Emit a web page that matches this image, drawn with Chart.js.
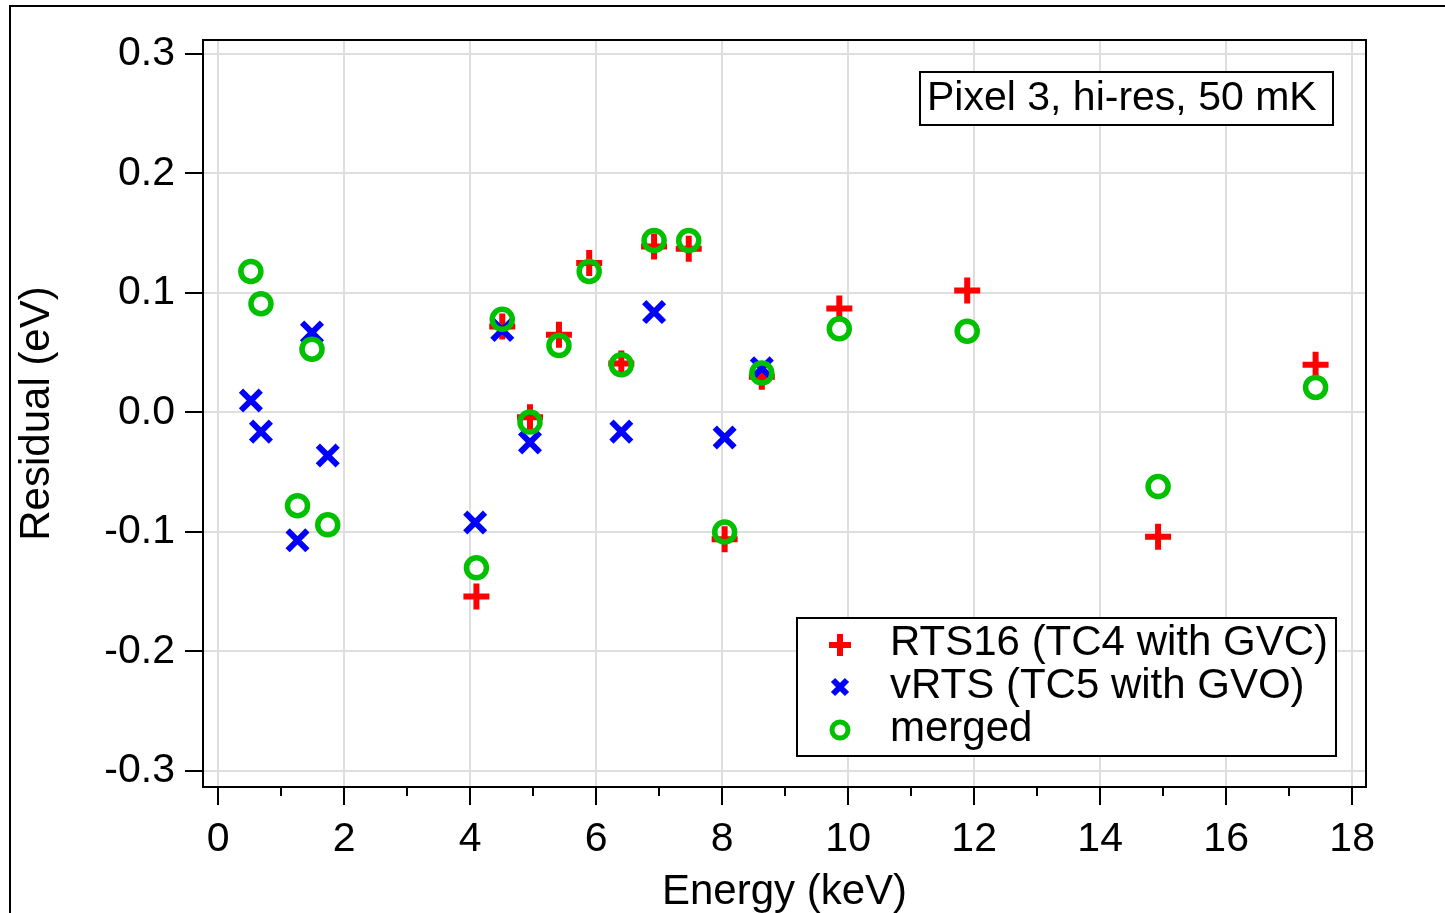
<!DOCTYPE html>
<html>
<head>
<meta charset="utf-8">
<script src="https://cdn.jsdelivr.net/npm/chart.js@4.4.1/dist/chart.umd.min.js"></script>
<style>
  html, body { margin: 0; padding: 0; background: #fff; }
  #wrap { position: relative; width: 1445px; height: 913px; overflow: hidden; }
  #frame { position: absolute; left: 9px; top: 5px; width: 1460px; height: 940px;
           border-left: 2px solid #000; border-top: 2px solid #000; }
  canvas { position: absolute; left: 0; top: 0; }
</style>
</head>
<body>
<div id="wrap">
  <div id="frame"></div>
  <canvas id="residChart" width="1445" height="913"></canvas>
</div>
<script>
// RTS16 (TC4 with GVC)
const rtsEnergy = [4.10, 4.51, 4.95, 5.41, 5.89, 6.40, 6.92, 7.47, 8.04, 8.63, 9.86, 11.89, 14.92, 17.42];
const rtsResid  = [-0.154, 0.072, -0.004, 0.065, 0.125, 0.041, 0.139, 0.137, -0.106, 0.030, 0.087, 0.102, -0.104, 0.040];

// vRTS (TC5 with GVO)
const vrtsEnergy = [0.52, 0.68, 1.26, 1.49, 1.74, 4.08, 4.51, 4.95, 6.40, 6.92, 8.04, 8.63];
const vrtsResid  = [0.010, -0.016, -0.107, 0.067, -0.036, -0.092, 0.069, -0.025, -0.016, 0.084, -0.021, 0.037];

// merged
const mergedEnergy = [0.52, 0.68, 1.26, 1.49, 1.74, 4.10, 4.51, 4.95, 5.41, 5.89, 6.40, 6.92, 7.47, 8.04, 8.63, 9.86, 11.89, 14.92, 17.42];
const mergedResid  = [0.118, 0.091, -0.078, 0.053, -0.094, -0.130, 0.078, -0.008, 0.056, 0.118, 0.040, 0.144, 0.144, -0.100, 0.033, 0.070, 0.068, -0.062, 0.021];

const seriesNames = ['RTS16 (TC4 with GVC)', 'vRTS (TC5 with GVO)', 'merged'];
const xTicks = [0, 2, 4, 6, 8, 10, 12, 14, 16, 18];
const xMinorTicks = [1, 3, 5, 7, 9, 11, 13, 15, 17];
const yTicks = [-0.3, -0.2, -0.1, 0.0, 0.1, 0.2, 0.3];
const noteText = 'Pixel 3, hi-res, 50 mK';

const FONT = "'Liberation Sans', Arial, Helvetica, sans-serif";
Chart.defaults.font.family = FONT;
Chart.defaults.color = '#000';

const RED = '#ff0000', BLUE = '#0000ff', GREEN = '#00c000';

function toPoints(xs, ys) {
    return xs.map((x, i) => ({ x: x, y: ys[i] }));
}

// frame, minor ticks, legend box and note box
const extras = {
    id: 'extras',
    afterDraw(chart) {
        const ctx = chart.ctx;
        const a = chart.chartArea;
        const xs = chart.scales.x;
        ctx.save();
        ctx.strokeStyle = '#000';
        ctx.lineWidth = 2;
        ctx.strokeRect(a.left, a.top, a.right - a.left, a.bottom - a.top);

        ctx.beginPath();
        xMinorTicks.forEach(v => {
            const px = Math.round(xs.getPixelForValue(v));
            ctx.moveTo(px, a.bottom);
            ctx.lineTo(px, a.bottom + 9);
        });
        ctx.stroke();

        // note box
        ctx.fillStyle = '#fff';
        ctx.fillRect(920, 72, 413, 53);
        ctx.strokeRect(920, 72, 413, 53);
        ctx.fillStyle = '#000';
        ctx.font = '41px ' + FONT;
        ctx.textBaseline = 'alphabetic';
        ctx.textAlign = 'left';
        ctx.fillText(noteText, 927, 110);

        // legend box
        ctx.fillStyle = '#fff';
        ctx.fillRect(797, 618, 539, 138);
        ctx.strokeRect(797, 618, 539, 138);
        const rows = [655, 698, 741];
        ctx.fillStyle = '#000';
        ctx.font = '42px ' + FONT;
        seriesNames.forEach((name, i) => ctx.fillText(name, 890, rows[i]));

        const mx = 840;
        ctx.lineWidth = 6;
        // plus
        ctx.strokeStyle = RED;
        ctx.beginPath();
        ctx.moveTo(mx - 11, 645); ctx.lineTo(mx + 11, 645);
        ctx.moveTo(mx, 634); ctx.lineTo(mx, 656);
        ctx.stroke();
        // x
        ctx.strokeStyle = BLUE;
        ctx.beginPath();
        ctx.moveTo(mx - 7, 680); ctx.lineTo(mx + 7, 694);
        ctx.moveTo(mx - 7, 694); ctx.lineTo(mx + 7, 680);
        ctx.stroke();
        // circle
        ctx.strokeStyle = GREEN;
        ctx.lineWidth = 5;
        ctx.beginPath();
        ctx.arc(mx, 730, 8, 0, Math.PI * 2);
        ctx.stroke();
        ctx.restore();
    }
};

const ctx = document.getElementById('residChart').getContext('2d');
const residChart = new Chart(ctx, {
    type: 'scatter',
    data: {
        datasets: [
            {
                label: seriesNames[0],
                data: toPoints(rtsEnergy, rtsResid),
                pointStyle: 'cross',
                pointRadius: 13,
                borderColor: RED,
                backgroundColor: RED,
                pointBorderWidth: 6,
                order: 2
            },
            {
                label: seriesNames[1],
                data: toPoints(vrtsEnergy, vrtsResid),
                pointStyle: 'crossRot',
                pointRadius: 14,
                borderColor: BLUE,
                backgroundColor: BLUE,
                pointBorderWidth: 6,
                order: 1
            },
            {
                label: seriesNames[2],
                data: toPoints(mergedEnergy, mergedResid),
                pointStyle: 'circle',
                pointRadius: 10,
                borderColor: GREEN,
                backgroundColor: 'rgba(0,0,0,0)',
                pointBorderWidth: 5.5,
                order: 0
            }
        ]
    },
    options: {
        responsive: false,
        animation: false,
        events: [],
        layout: { padding: { left: 12, right: 79, top: 40, bottom: 0 } },
        plugins: {
            legend: { display: false },
            tooltip: { enabled: false }
        },
        scales: {
            x: {
                type: 'linear',
                min: -0.24,
                max: 18.22,
                afterBuildTicks: s => { s.ticks = xTicks.map(v => ({ value: v })); },
                afterFit: s => { s.height = 126; },
                grid: { color: '#dedede', lineWidth: 2, tickLength: 18, tickColor: '#000', tickWidth: 2 },
                border: { display: false },
                ticks: { font: { size: 41 }, padding: 10, maxRotation: 0, callback: v => String(v) },
                title: { display: true, text: 'Energy (keV)', font: { size: 42 }, padding: { top: 0, bottom: -5 } }
            },
            y: {
                type: 'linear',
                min: -0.3134,
                max: 0.3117,
                afterBuildTicks: s => { s.ticks = yTicks.map(v => ({ value: v })); },
                afterFit: s => { s.width = 191; },
                grid: { color: '#dedede', lineWidth: 2, tickLength: 18, tickColor: '#000', tickWidth: 2 },
                border: { display: false },
                ticks: { font: { size: 41 }, padding: 10, callback: v => v.toFixed(1) },
                title: { display: true, text: 'Residual (eV)', font: { size: 42 }, padding: 0 }
            }
        }
    },
    plugins: [extras]
});
</script>
</body>
</html>
